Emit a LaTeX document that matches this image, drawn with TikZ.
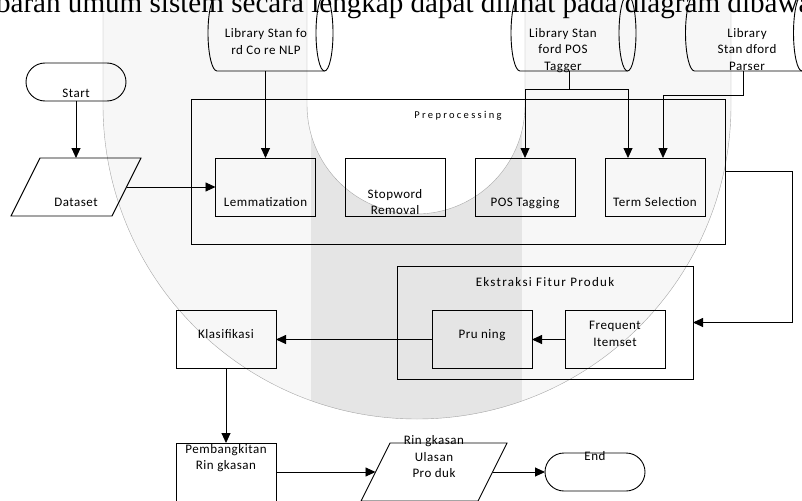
\documentclass[tikz,border=0pt]{standalone}
\usepackage{fontspec}
\setmainfont{Carlito}
\newfontfamily\serifhead{Liberation Serif}
\newfontfamily\boxfont[LetterSpace=4]{Carlito}
\newfontfamily\eksfont[LetterSpace=10]{Carlito}
\newfontfamily\prefont[LetterSpace=22]{Carlito}
\usetikzlibrary{arrows.meta,calc}
\newcommand\drawlib[1]{%
  \draw[ln] ([xshift=-8.5pt]#1.north east) -- ([xshift=9pt]#1.north west)
    arc[start angle=90,end angle=270,x radius=9pt,y radius=38pt]
    -- ([xshift=-8.5pt]#1.south east);
  \draw[ln] ([xshift=-8.5pt]#1.east) ellipse [x radius=8.5pt,y radius=38pt];}
\begin{document}
\begin{tikzpicture}[x=1pt,y=-1pt,
  every node/.style={inner sep=0pt,outer sep=0pt},
  ln/.style={line width=0.9pt},
  box/.style={draw,ln,minimum width=100pt,minimum height=58pt},
  grp/.style={draw,ln},
  termbox/.style={draw,ln,rounded corners=19pt,minimum width=100pt,minimum height=38pt},
  ioframe/.style={minimum width=130pt,minimum height=58pt},
  libframe/.style={minimum width=125pt,minimum height=76pt},
  txt/.style={font=\boxfont\fontsize{13}{16.5}\selectfont,text height=8.4pt,text depth=0pt},
  mtxt/.style={font=\boxfont\fontsize{13}{16.5}\selectfont,align=center},
  arr/.style={ln,-{Triangle[length=10pt,width=9pt]}},
  wmline/.style={line width=0.4pt,draw=black!35}]
\useasboundingbox (0,0) rectangle (802,500);
\clip (0,0) rectangle (802,500);
% watermark
\fill[black!3] (103,-10) -- (103,105) arc[start angle=180,end angle=360,radius=314pt] -- (731,-10) -- cycle;
\begin{scope}
\clip (103,-10) -- (103,105) arc[start angle=180,end angle=360,radius=314pt] -- (731,-10) -- cycle;
\fill[black!10] (311,100) rectangle (522,500);
\end{scope}
\fill[white] (307,-10) -- (307,105) arc[start angle=180,end angle=360,radius=109pt] -- (525,-10) -- cycle;
\draw[wmline] (103,-10) -- (103,105) arc[start angle=180,end angle=360,radius=314pt] -- (731,-10);
\draw[wmline] (307,-10) -- (307,105) arc[start angle=180,end angle=360,radius=109pt] -- (525,-10);
% header text
\node[anchor=base west,font=\serifhead\fontsize{29.1}{34}\selectfont] (hdr) at (-60.5,13) {Gambaran umum sistem secara lengkap dapat dilihat pada diagram dibawah ini};
% containers
\node[grp,minimum width=534pt,minimum height=145pt] (pre) at (458,171.5) {};
\node[font=\prefont\fontsize{10.5}{12}\selectfont,text height=7pt,text depth=0pt] (preT) at (458,115) {Preprocessing};
\node[grp,minimum width=296pt,minimum height=113pt] (eks) at (545,322.5) {};
\node[font=\eksfont\fontsize{13}{16}\selectfont,text height=8.4pt,text depth=0pt] (eksT) at (545,282) {Ekstraksi Fitur Produk};
% libraries
\node[libframe] (lib1) at (270.5,33) {};
\drawlib{lib1}
\node[mtxt] (lib1T) at (266,41.5) {Library Stan fo\\rd Co re NLP};
\node[libframe] (lib2) at (573.5,33) {};
\drawlib{lib2}
\node[mtxt] (lib2T) at (563,50.5) {Library Stan\\ford POS\\Tagger};
\node[libframe] (lib3) at (748,33) {};
\drawlib{lib3}
\node[mtxt] (lib3T) at (747,49.5) {Library\\Stan dford\\Parser};
% flow
\node[termbox] (start) at (76,82) {};
\node[txt] (startT) at (76,93) {Start};
\node[ioframe] (data) at (76,187) {};
\draw[ln] ([xshift=29pt]data.north west) -- (data.north east) -- ([xshift=-29pt]data.south east) -- (data.south west) -- cycle;
\node[txt] (dataT) at (76,202) {Dataset};
\node[box] (lem) at (265.5,187) {};
\node[txt] (lemT) at (265.5,202) {Lemmatization};
\node[box] (stop) at (395,187) {};
\node[mtxt] (stopT) at (395,202) {Stopword\\Removal};
\node[box] (pos) at (525,187) {};
\node[txt] (posT) at (525,202) {POS Tagging};
\node[box] (term) at (655,187) {};
\node[txt] (termT) at (655,202) {Term Selection};
\node[box] (freq) at (615,339.5) {};
\node[mtxt] (freqT) at (615,334) {Frequent\\Itemset};
\node[box] (pru) at (482,339.5) {};
\node[txt] (pruT) at (482,334) {Pru ning};
\node[box] (kla) at (226,339.5) {};
\node[txt] (klaT) at (226,334) {Klasifikasi};
\node[box] (pemb) at (226,472) {};
\node[mtxt] (pembT) at (226,458) {Pembangkitan\\Rin gkasan};
\node[ioframe,minimum width=146pt] (ring) at (434,472) {};
\draw[ln] ([xshift=29pt]ring.north west) -- (ring.north east) -- ([xshift=-29pt]ring.south east) -- (ring.south west) -- cycle;
\node[mtxt] (ringT) at (434,457) {Rin gkasan\\Ulasan\\Pro duk};
\node[termbox] (end) at (595,472) {};
\node[txt] (endT) at (595,456) {End};
% connectors
\draw[arr] (start.south) -- (data.north);
\draw[arr] ([xshift=-14.5pt]data.east) -- (lem.west);
\draw[arr] (lem.north |- lib1.south) -- (lem.north);
\draw[ln] ([xshift=-4.5pt]lib2.south) -- ++(0,18) coordinate (j2);
\draw[arr] (j2) -| (pos.north);
\draw[arr] (j2) -| ([xshift=-27pt]term.north);
\draw[arr] ([xshift=-5pt]lib3.south) -- ++(0,24) -| ([xshift=8pt]term.north);
\draw[arr] (pre.east) -- ++(67,0) |- (eks.east);
\draw[arr] (freq) -- (pru);
\draw[arr] (pru) -- (kla);
\draw[arr] (kla) -- (pemb);
\draw[arr] (pemb) -- ([xshift=14.5pt]ring.west);
\draw[arr] ([xshift=-14.5pt]ring.east) -- (end);
\end{tikzpicture}
\end{document}
